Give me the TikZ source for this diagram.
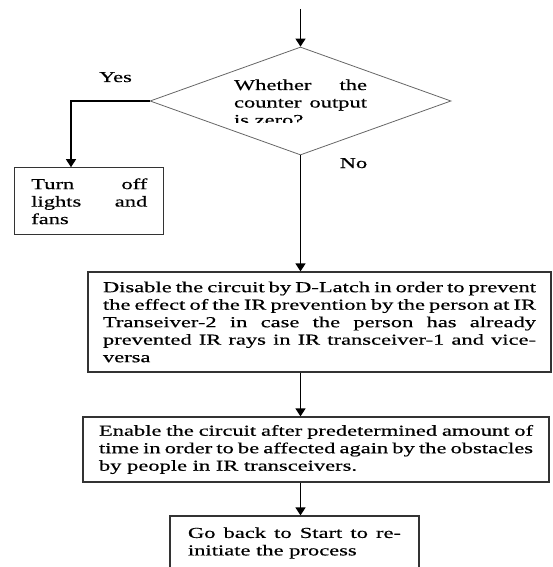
\documentclass[tikz,border=0pt]{standalone}
\usepackage{fontspec}
\setmainfont{Liberation Serif}[FakeStretch=1.48,FakeBold=0.5]
\usetikzlibrary{shapes,positioning,arrows.meta}
\tikzset{>={Triangle[width=10pt,length=8pt]}}
\colorlet{boxColor}{black!80}
\colorlet{condColor}{black!60}
\tikzset{
	box/.style={draw=boxColor,line width=1.2pt,inner xsep=2pt,inner ysep=0pt,align=justify},
	cond/.style={diamond,draw=condColor,line width=.8pt,inner sep=0pt},
	flow/.style={->,line width=1.3pt,black}
}

\begin{document}
\begin{tikzpicture}[x=1pt,y=-1pt,every node/.style={font=\fontsize{15.2}{17.5}\selectfont}]
				\clip (0,0) rectangle (552,567);
				\coordinate (top) at (300.5,9);
				\coordinate (yk) at (71,101);
				\node[cond,minimum width=301pt,minimum height=108pt] (cond) at (300.5,101) {};
				\begin{scope}
					\clip (200,60) rectangle (400,122.5);
					\node[text width=133pt,align=justify,inner sep=0pt,anchor=base] (q) at (300.5,90) {Whether the\linebreak counter output\linebreak is zero?};
				\end{scope}
				\node[anchor=base] (yes) at (115.5,82) {Yes};
				\node[anchor=base] (no) at (353.5,168) {No};
				\node[box,text width=116pt,minimum width=149pt,minimum height=67pt] (off) at (89.3,201.3) {Turn off\linebreak lights and\linebreak fans};
				\node[box,text width=433pt,minimum width=463pt,minimum height=100pt] (dis) at (319.5,322) {Disable the circuit by D-Latch in order to prevent\linebreak the effect of the IR prevention by the person at IR\linebreak Transeiver-2 in case the person has already\linebreak prevented IR rays in IR transceiver-1 and vice-\linebreak versa};
				\node[box,text width=434pt,minimum width=466pt,minimum height=65pt] (en) at (316,449.5) {Enable the circuit after predetermined amount of\linebreak time in order to be affected again by the obstacles\linebreak by people in IR transceivers.};
				\node[box,text width=213pt,minimum width=249pt,minimum height=54pt] (back) at (294.5,543) {Go back to Start to re-\linebreak initiate the process};
				\draw[flow] (top) -- (cond.north);
				\draw[flow] (cond.west) -- (yk) -- (yk |- off.north);
				\draw[flow] (cond.south) -- (cond.south |- dis.north);
				\draw[flow] (cond.south |- dis.south) -- (cond.south |- en.north);
				\draw[flow] (cond.south |- en.south) -- (cond.south |- back.north);
\end{tikzpicture}
\end{document}
